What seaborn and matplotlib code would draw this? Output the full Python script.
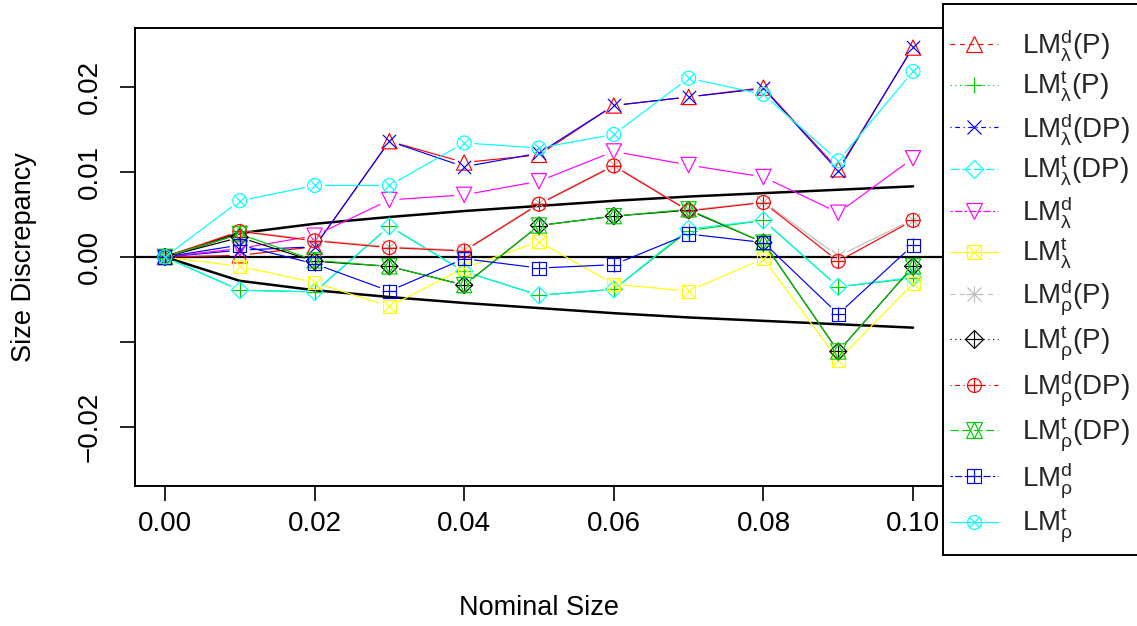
import numpy as np
import pandas as pd
import matplotlib
matplotlib.use("Agg")
import matplotlib.pyplot as plt
import seaborn as sns
from matplotlib.lines import Line2D
from matplotlib.patches import Rectangle
from matplotlib.legend_handler import HandlerTuple

# ---------------- data ----------------
nominal = [0.00, 0.01, 0.02, 0.03, 0.04, 0.05, 0.06, 0.07, 0.08, 0.09, 0.10]

lam_d_P  = [0, 0.0002, 0.0012, 0.0136, 0.0111, 0.0120, 0.0178, 0.0188, 0.0199, 0.0103, 0.0246]
lam_t_P  = [0, -0.0039, -0.0041, 0.0036, -0.0017, -0.0045, -0.0038, 0.0031, 0.0043, -0.0035, -0.0025]
lam_d_DP = [0, 0.0008, 0.0012, 0.0136, 0.0106, 0.0122, 0.0178, 0.0188, 0.0198, 0.0101, 0.0247]
lam_t_DP = [0, -0.0039, -0.0041, 0.0036, -0.0017, -0.0045, -0.0038, 0.0033, 0.0043, -0.0035, -0.0024]
lam_d    = [0, 0.0010, 0.0025, 0.0067, 0.0073, 0.0089, 0.0124, 0.0108, 0.0094, 0.0052, 0.0116]
lam_t    = [0, -0.0011, -0.0030, -0.0058, -0.0013, 0.0018, -0.0032, -0.0040, -0.0002, -0.0121, -0.0031]
rho_d_P  = [0, 0.0031, 0.0020, 0.0012, 0.0008, 0.0063, 0.0108, 0.0055, 0.0065, 0.0001, 0.0044]
rho_t_P  = [0, 0.0023, -0.0005, -0.0011, -0.0033, 0.0037, 0.0048, 0.0055, 0.0017, -0.0111, -0.0011]
rho_d_DP = [0, 0.0030, 0.0019, 0.0011, 0.0007, 0.0062, 0.0107, 0.0054, 0.0064, -0.0005, 0.0043]
rho_t_DP = [0, 0.0027, -0.0004, -0.0011, -0.0033, 0.0037, 0.0048, 0.0056, 0.0017, -0.0111, -0.0011]
rho_d    = [0, 0.0014, -0.0008, -0.0040, -0.0002, -0.0013, -0.0009, 0.0027, 0.0017, -0.0067, 0.0014]
rho_t    = [0, 0.0066, 0.0084, 0.0084, 0.0134, 0.0128, 0.0144, 0.0210, 0.0191, 0.0113, 0.0218]

upper_bound = [0, 0.0028, 0.0039, 0.0047, 0.0054, 0.0060, 0.0066, 0.0071, 0.0075, 0.0079, 0.0083]
lower_bound = [0, -0.0028, -0.0039, -0.0047, -0.0054, -0.0060, -0.0066, -0.0071, -0.0075, -0.0079, -0.0083]

labels = [
    r"LM$^{\mathrm{d}}_{\mathrm{λ}}$(P)", r"LM$^{\mathrm{t}}_{\mathrm{λ}}$(P)",
    r"LM$^{\mathrm{d}}_{\mathrm{λ}}$(DP)", r"LM$^{\mathrm{t}}_{\mathrm{λ}}$(DP)",
    r"LM$^{\mathrm{d}}_{\mathrm{λ}}$", r"LM$^{\mathrm{t}}_{\mathrm{λ}}$",
    r"LM$^{\mathrm{d}}_{\mathrm{ρ}}$(P)", r"LM$^{\mathrm{t}}_{\mathrm{ρ}}$(P)",
    r"LM$^{\mathrm{d}}_{\mathrm{ρ}}$(DP)", r"LM$^{\mathrm{t}}_{\mathrm{ρ}}$(DP)",
    r"LM$^{\mathrm{d}}_{\mathrm{ρ}}$", r"LM$^{\mathrm{t}}_{\mathrm{ρ}}$",
]
series = [lam_d_P, lam_t_P, lam_d_DP, lam_t_DP, lam_d, lam_t,
          rho_d_P, rho_t_P, rho_d_DP, rho_t_DP, rho_d, rho_t]
colors = ["#FF0000", "#00CD00", "#0000FF", "#00FFFF", "#FF00FF", "#FFFF00",
          "#BEBEBE", "#000000", "#FF0000", "#00CD00", "#0000FF", "#00FFFF"]
# (marker, size, hollow)
marker_parts = [
    [("^", 11, True)],
    [("+", 12, False)],
    [("x", 9.5, False)],
    [("D", 8.7, True)],
    [("v", 11, True)],
    [("s", 9.4, True), ("x", 9.4, False)],
    [("+", 12, False), ("x", 9.5, False)],
    [("D", 8.7, True), ("+", 12.2, False)],
    [("o", 10, True), ("+", 10, False)],
    [("^", 11, True), ("v", 11, True)],
    [("s", 9.4, True), ("+", 9.4, False)],
    [("o", 10, True), ("x", 7.2, False)],
]
legend_ls = [(0, (4, 4)), (0, (1, 3)), (0, (1, 3, 4, 3)), (0, (7, 3)), (0, (2, 2, 6, 2)), "-",
             (0, (4, 4)), (0, (1, 3)), (0, (1, 3, 4, 3)), (0, (7, 3)), (0, (2, 2, 6, 2)), "-"]

# ---------------- style ----------------
sns.set_theme(style="white")
plt.rcParams["font.family"] = ["Liberation Sans", "DejaVu Sans"]
plt.rcParams["mathtext.fontset"] = "custom"
plt.rcParams["mathtext.rm"] = "Liberation Sans"
plt.rcParams["mathtext.it"] = "Liberation Sans:italic"
plt.rcParams["mathtext.bf"] = "Liberation Sans:bold"

W, H = 1137, 626
fig = plt.figure(figsize=(W / 100, H / 100), dpi=100)
ax = fig.add_axes([135 / W, 1 - 486 / H, (943 - 135) / W, (486 - 28) / H])

# reference curves
ax.axhline(0, color="black", lw=1.6, zorder=1)
sns.lineplot(x=nominal, y=upper_bound, ax=ax, color="black", lw=1.8, zorder=1)
sns.lineplot(x=nominal, y=lower_bound, ax=ax, color="black", lw=1.8, zorder=1)

GAP = 7.5
LW = 0.85
for k, (vals, col, parts) in enumerate(zip(series, colors, marker_parts)):
    z = 2 + k
    for i in range(len(nominal) - 1):
        ax.annotate("", xy=(nominal[i + 1], vals[i + 1]), xytext=(nominal[i], vals[i]),
                    xycoords="data", textcoords="data",
                    arrowprops=dict(arrowstyle="-", color=col, lw=LW,
                                    shrinkA=GAP, shrinkB=GAP),
                    zorder=z)
    df = pd.DataFrame({"x": nominal, "y": vals})
    for m, ms, hollow in parts:
        if hollow:
            sns.scatterplot(data=df, x="x", y="y", ax=ax, marker=m, s=ms ** 2,
                            facecolor="none", edgecolor=col, linewidth=LW, zorder=z)
        else:
            sns.scatterplot(data=df, x="x", y="y", ax=ax, marker=m, s=ms ** 2,
                            color=col, linewidth=LW, zorder=z)

ax.set_xlim(-0.004, 0.104)
ax.set_ylim(-0.0269, 0.0269)
ax.set_xticks([0.00, 0.02, 0.04, 0.06, 0.08, 0.10])
ax.set_xticklabels(["0.00", "0.02", "0.04", "0.06", "0.08", "0.10"])
ax.set_yticks([-0.02, -0.01, 0.00, 0.01, 0.02])
ax.set_yticklabels(["\u22120.02", "", "0.00", "0.01", "0.02"], rotation=90, va="center")
ax.tick_params(axis="both", direction="out", length=11, width=1.2, labelsize=20,
               color="black", labelcolor="black", bottom=True, left=True)
ax.tick_params(axis="x", pad=7)
ax.tick_params(axis="y", pad=12)
for sp in ax.spines.values():
    sp.set_color("black")
    sp.set_linewidth(1.4)
    sp.set_visible(True)
ax.set_xlabel("Nominal Size", fontsize=19.5, color="black", labelpad=42)
ax.set_ylabel("Size Discrepancy", fontsize=19.5, color="black", labelpad=29)

# legend
handles = []
for col, parts, ls in zip(colors, marker_parts, legend_ls):
    sub = []
    for j, (m, ms, hollow) in enumerate(parts):
        sub.append(Line2D([], [], color=col, lw=LW if j == 0 else 0,
                          linestyle=ls if j == 0 else "none",
                          marker=m, markersize=ms, markeredgewidth=LW,
                          markerfacecolor="none" if hollow else col,
                          markeredgecolor=col))
    handles.append(tuple(sub))

fig.patches.append(Rectangle((943 / W, 1 - 555 / H), 210 / W, 551 / H,
                             transform=fig.transFigure, facecolor="white",
                             edgecolor="black", linewidth=1.4, zorder=5))
leg = fig.legend(handles, labels, loc="upper left",
                 bbox_to_anchor=(950 / W, 1 - 27 / H), bbox_transform=fig.transFigure,
                 handler_map={tuple: HandlerTuple(ndivide=1, pad=0)},
                 fontsize=20, frameon=False, handlelength=1.73, handletextpad=0.85,
                 labelspacing=0.22, borderpad=0.0, borderaxespad=0)
leg.set_zorder(6)

fig.savefig("out.png", dpi=100)
